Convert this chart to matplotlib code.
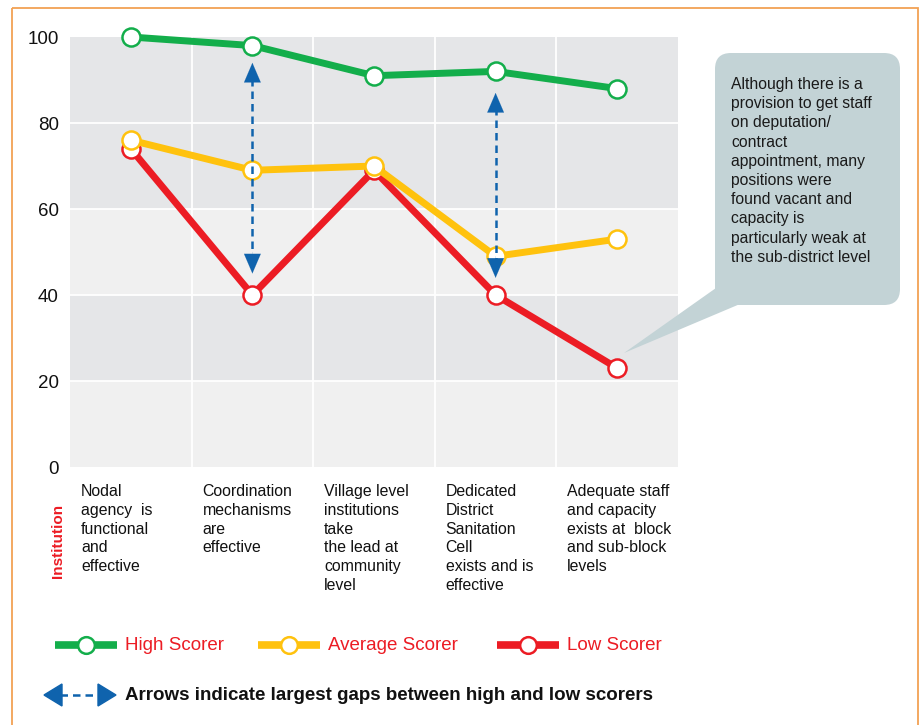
import matplotlib
matplotlib.use('Agg')
import matplotlib.pyplot as plt
from matplotlib.patches import FancyBboxPatch, Polygon, Rectangle

plt.rcParams['font.family'] = ['Liberation Sans', 'DejaVu Sans']

categories = ['Nodal\nagency  is\nfunctional\nand\neffective',
              'Coordination\nmechanisms\nare\neffective',
              'Village level\ninstitutions\ntake\nthe lead at\ncommunity\nlevel',
              'Dedicated\nDistrict\nSanitation\nCell\nexists and is\neffective',
              'Adequate staff\nand capacity\nexists at  block\nand sub-block\nlevels']
high = [100, 98, 91, 92, 88]
average = [76, 69, 70, 49, 53]
low = [74, 40, 69, 40, 23]
series_names = ['High Scorer', 'Average Scorer', 'Low Scorer']
gap_x = [1, 3]
gap_top = [94, 87]
gap_bottom = [45, 44]
yticks = [0, 20, 40, 60, 80, 100]
note = ('Although there is a\nprovision to get staff\non deputation/\ncontract\n'
        'appointment, many\npositions were\nfound vacant and\ncapacity is\n'
        'particularly weak at\nthe sub-district level')

green = '#13ae4b'
yellow = '#ffc20e'
red = '#ec1c24'
blue = '#0f63ad'
W, H = 923, 725

fig = plt.figure(figsize=(W / 100, H / 100), dpi=100)

ax = fig.add_axes([70 / W, 1 - 467 / H, 608 / W, 430 / H])
ax.set_xlim(-0.5, 4.5)
ax.set_ylim(0, 100)
bands = ['#f0f0f0', '#e5e6e8', '#f0f0f0', '#e5e6e8', '#e5e6e8']
for i, c in enumerate(bands):
    ax.axhspan(i * 20, i * 20 + 20, color=c, lw=0, zorder=0)
for y in [20, 40, 60, 80]:
    ax.axhline(y, color='white', lw=1.3, zorder=1)
for x in [0.5, 1.5, 2.5, 3.5]:
    ax.axvline(x, color='white', lw=1.3, zorder=1)
for s in ax.spines.values():
    s.set_visible(False)

xs = range(len(categories))
for vals, col in [(low, red), (average, yellow), (high, green)]:
    ax.plot(xs, vals, color=col, lw=5, marker='o', ms=13, mfc='white',
            mec=col, mew=1.8, clip_on=False, zorder=4, solid_capstyle='round')

head = dict(arrowstyle='-|>,head_length=1.4,head_width=0.6', color=blue,
            lw=0.1, shrinkA=0, shrinkB=0)
for g, t, b in zip(gap_x, gap_top, gap_bottom):
    ax.plot([g, g], [b + 3, t - 3], color=blue, lw=1.8, ls=(0, (3, 2)), zorder=5)
    ax.annotate('', xy=(g, t), xytext=(g, t - 5), arrowprops=head, zorder=6)
    ax.annotate('', xy=(g, b), xytext=(g, b + 5), arrowprops=head, zorder=6)

ax.set_yticks(yticks)
ax.set_yticklabels([str(v) for v in yticks], fontsize=13.5, color='#111111')
ax.tick_params(axis='y', length=0, pad=8)
ax.set_xticks([])

for i, lab in enumerate(categories):
    ax.text(i - 0.41, -4.0, lab, ha='left', va='top', fontsize=11.4,
            linespacing=1.31, color='#111111', transform=ax.transData, clip_on=False)

# overlay in pixel coords for frame, callout and legend
ov = fig.add_axes([0, 0, 1, 1])
ov.set_zorder(5)
ov.set_xlim(0, W)
ov.set_ylim(H, 0)
ov.axis('off')
ov.add_patch(Rectangle((12, 8), 906, 740, fill=False, edgecolor='#f2a154', lw=1.3))

ov.text(58, 541, 'Institution', rotation=90, ha='center', va='center',
        color=red, fontsize=11, fontweight='bold')

# callout
ov.add_patch(Polygon([[716, 288], [740, 304], [624, 353]], closed=True,
                     facecolor='#c3d3d6', edgecolor='none'))
ov.add_patch(FancyBboxPatch((730, 68), 155, 222,
                            boxstyle='round,pad=15,rounding_size=16',
                            facecolor='#c3d3d6', edgecolor='none'))
ov.text(731, 77, note, ha='left', va='top', fontsize=11.3, linespacing=1.35,
        color='#1a1a1a')

# legend
narrow = ['Liberation Sans Narrow', 'Liberation Sans']
for x0, col, name in [(55, green, series_names[0]), (258, yellow, series_names[1]),
                      (497, red, series_names[2])]:
    ov.plot([x0, x0 + 62], [645, 645], color=col, lw=5.5, solid_capstyle='butt')
    ov.plot([x0 + 31], [645], marker='o', ms=12, mfc='white', mec=col, mew=1.8)
    ov.text(x0 + 70, 645, name, ha='left', va='center', color=red,
            fontsize=13.5, family=narrow)

ov.plot([60, 100], [695, 695], color=blue, lw=1.8, ls=(0, (3, 2)))
ov.add_patch(Polygon([[44, 695], [62, 684], [62, 706]], closed=True, color=blue))
ov.add_patch(Polygon([[116, 695], [98, 684], [98, 706]], closed=True, color=blue))
ov.text(125, 696, 'Arrows indicate largest gaps between high and low scorers',
        ha='left', va='center', fontsize=13.5, fontweight='bold', family=narrow,
        color='#111111')

fig.savefig('out.png', dpi=100)
